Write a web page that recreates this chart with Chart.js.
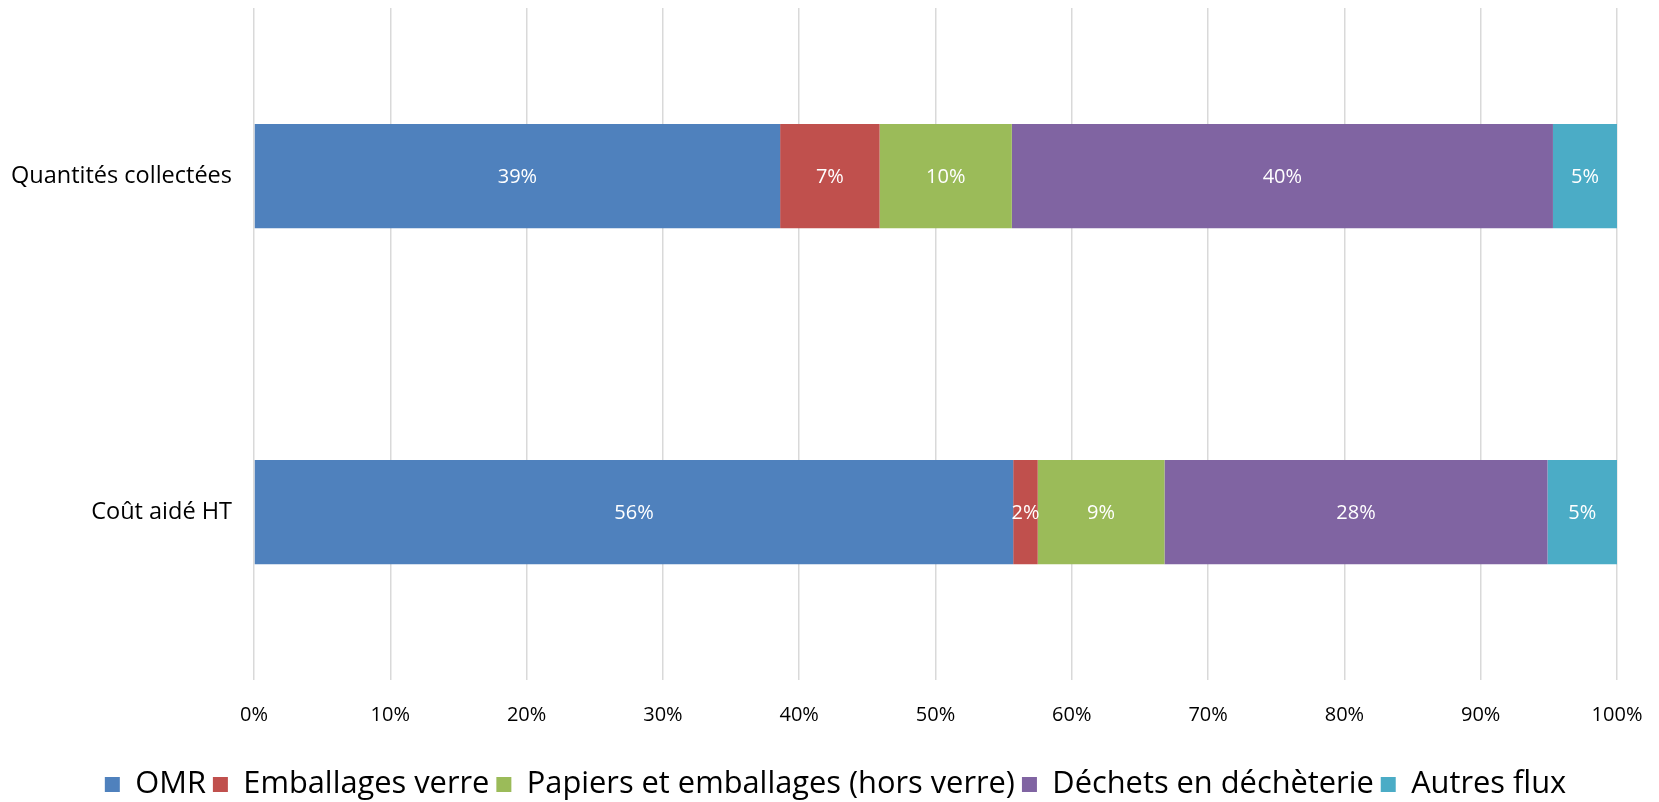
<!DOCTYPE html>
<html>
<head>
<meta charset="utf-8">
<script src="https://cdn.jsdelivr.net/npm/chart.js@4"></script>
<style>
  html, body { margin: 0; padding: 0; background: #fff; }
  #wrap { width: 1659px; height: 802px; }
</style>
</head>
<body>
<div id="wrap"><canvas id="wasteChart"></canvas></div>
<script>
// data
const categories = ['Quantités collectées', 'Coût aidé HT'];
const seriesNames = ['OMR', 'Emballages verre', 'Papiers et emballages (hors verre)', 'Déchets en déchèterie', 'Autres flux'];
const omr = [38.6, 55.7];
const verre = [7.3, 1.8];
const papiers = [9.7, 9.3];
const decheterie = [39.7, 28.1];
const autres = [4.7, 5.1];
const xTicks = [0, 10, 20, 30, 40, 50, 60, 70, 80, 90, 100];

const colors = ['#4F81BD', '#C0504D', '#9BBB59', '#8064A2', '#4BACC6'];
const fontFamily = "'Open Sans', 'Noto Sans', sans-serif";

// white % labels in the middle of each segment
const segmentLabels = {
    id: 'segmentLabels',
    afterDatasetsDraw(chart) {
        const ctx = chart.ctx;
        ctx.save();
        ctx.fillStyle = '#ffffff';
        ctx.font = '20px ' + fontFamily;
        ctx.textAlign = 'center';
        ctx.textBaseline = 'middle';
        chart.data.datasets.forEach((ds, i) => {
            const meta = chart.getDatasetMeta(i);
            meta.data.forEach((bar, j) => {
                const p = bar.getCenterPoint();
                ctx.fillText(Math.round(ds.data[j]) + '%', p.x, p.y + 1);
            });
        });
        ctx.restore();
    }
};

// the original legend sits a little right of the canvas centre
const legendShift = {
    id: 'legendShift',
    afterLayout(chart) {
        if (chart.legend) {
            chart.legend.left += 27;
            chart.legend.right += 27;
        }
    }
};

const allSeries = [omr, verre, papiers, decheterie, autres];

const ctx = document.getElementById('wasteChart').getContext('2d');
const config = {
    type: 'bar',
    data: {
        labels: categories,
        datasets: allSeries.map((vals, i) => ({
            label: seriesNames[i],
            data: vals,
            backgroundColor: colors[i],
            categoryPercentage: 1,
            barPercentage: 0.31
        }))
    },
    options: {
        indexAxis: 'y',
        responsive: true,
        maintainAspectRatio: false,
        animation: false,
        layout: { padding: { top: 8, right: 42, left: 0, bottom: -8 } },
        scales: {
            x: {
                stacked: true,
                min: 0,
                max: 100,
                afterBuildTicks: (scale) => { scale.ticks = xTicks.map(v => ({ value: v })); },
                afterFit: (scale) => {
                    scale.height = 82;
                    scale.paddingLeft = 0;
                    scale.paddingRight = 0;
                },
                grid: { color: '#D9D9D9', lineWidth: 1.5, drawTicks: false },
                border: { display: false },
                ticks: {
                    padding: 23,
                    color: '#000',
                    font: { family: fontFamily, size: 20 },
                    callback: (v) => v + '%'
                }
            },
            y: {
                stacked: true,
                afterFit: (scale) => {
                    scale.width = 254;
                    scale.paddingTop = 0;
                    scale.paddingBottom = 0;
                },
                grid: { display: false },
                border: { display: false },
                ticks: {
                    padding: 14,
                    color: '#000',
                    font: { family: fontFamily, size: 23.5 }
                }
            }
        },
        plugins: {
            legend: {
                position: 'bottom',
                labels: {
                    boxWidth: 15,
                    boxHeight: 15,
                    padding: 7,
                    color: '#000',
                    font: { family: fontFamily, size: 30.8 }
                }
            },
            tooltip: { enabled: false }
        }
    },
    plugins: [segmentLabels, legendShift]
};
const wasteChart = new Chart(ctx, config);
</script>
</body>
</html>
